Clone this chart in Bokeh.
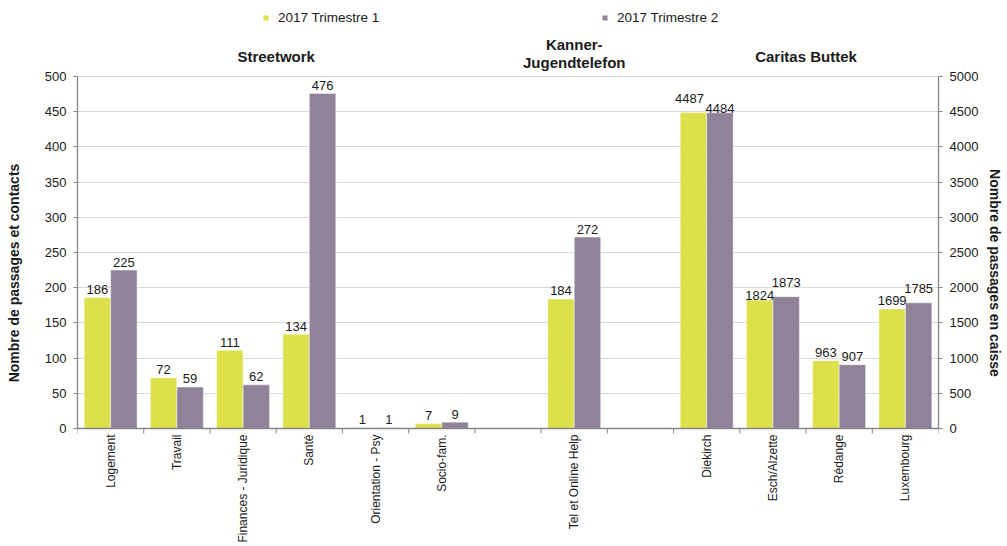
import math
from bokeh.plotting import figure
from bokeh.models import (Range1d, LinearAxis, FixedTicker, ColumnDataSource,
                          Legend, LegendItem, Span)
from bokeh.core.properties import value
from bokeh.embed import file_html
from bokeh.resources import INLINE

# ---------------- data ----------------
categories = ["Logement", "Travail", "Finances - Juridique", "Santé",
              "Orientation - Psy", "Socio-fam.", "", "Tel et Online Help", "",
              "Diekirch", "Esch/Alzette", "Rédange", "Luxembourg"]
t1_values = [186, 72, 111, 134, 1, 7, None, 184, None, 4487, 1824, 963, 1699]
t2_values = [225, 59, 62, 476, 1, 9, None, 272, None, 4484, 1873, 907, 1785]
axis_side = ["left"] * 9 + ["right"] * 4
series_names = ["2017 Trimestre 1", "2017 Trimestre 2"]
group_names = ["Streetwork", "Kanner-\nJugendtelefon", "Caritas Buttek"]
group_first = [0, 7, 9]
group_last = [5, 7, 12]
left_ticks = [0, 50, 100, 150, 200, 250, 300, 350, 400, 450, 500]
right_ticks = [0, 500, 1000, 1500, 2000, 2500, 3000, 3500, 4000, 4500, 5000]
left_label = "Nombre de passages et contacts"
right_label = "Nombre de passages en caisse"

# label nudges (style only): (series index, category) -> (dx, dy) pixels
label_nudge = {(0, "Diekirch"): (-4, -6), (1, "Diekirch"): (0, 4),
               (0, "Esch/Alzette"): (0, 3), (1, "Esch/Alzette"): (0, -6),
               (1, "Luxembourg"): (0, -6)}

# ---------------- layout / style ----------------
W, H = 1006, 545
PLOT_LEFT, PLOT_RIGHT = 77, 939        # pixel edges of the value area
PLOT_TOP, PLOT_BOTTOM = 76, 428        # pixel rows of the top tick and the zero line
GREEN = "#DCE04A"
PURPLE = "#8F8299"
AXIS_C = "#868686"
GRID_C = "#D9D9D9"
TXT_C = "#1a1a1a"
FONT = "Liberation Sans"
BAR_W = 0.4

n = len(categories)
s_left = (left_ticks[-1] - left_ticks[0]) / (PLOT_BOTTOM - PLOT_TOP)   # data per px
s_right = (right_ticks[-1] - right_ticks[0]) / (PLOT_BOTTOM - PLOT_TOP)


def y_at(px):
    return (PLOT_BOTTOM - px) * s_left


p = figure(width=W, height=H, output_backend="svg", toolbar_location=None,
           title=None, x_axis_location=None,
           x_range=Range1d(0, n),
           y_range=Range1d(-(H - PLOT_BOTTOM) * s_left, PLOT_BOTTOM * s_left),
           min_border_left=PLOT_LEFT, min_border_right=W - PLOT_RIGHT,
           min_border_top=0, min_border_bottom=0)
p.extra_y_ranges = {"right": Range1d(-(H - PLOT_BOTTOM) * s_right, PLOT_BOTTOM * s_right)}
p.outline_line_color = None
p.background_fill_color = "white"
p.border_fill_color = "white"

renderers = {}
for side in ["left", "right"]:
    idx = [i for i in range(n) if axis_side[i] == side and t1_values[i] is not None]
    data = dict(
        x1=[i + 0.5 - BAR_W / 2 for i in idx],
        x2=[i + 0.5 + BAR_W / 2 for i in idx],
        t1=[t1_values[i] for i in idx],
        t2=[t2_values[i] for i in idx],
        l1=[str(t1_values[i]) for i in idx],
        l2=[str(t2_values[i]) for i in idx],
        dx1=[label_nudge.get((0, categories[i]), (0, 0))[0] for i in idx],
        dy1=[-8 + label_nudge.get((0, categories[i]), (0, 0))[1] for i in idx],
        dx2=[label_nudge.get((1, categories[i]), (0, 0))[0] for i in idx],
        dy2=[-8 + label_nudge.get((1, categories[i]), (0, 0))[1] for i in idx],
    )
    src = ColumnDataSource(data)
    kw = {} if side == "left" else {"y_range_name": "right"}
    r1 = p.vbar(x="x1", top="t1", width=BAR_W, source=src, fill_color=GREEN,
                line_color="white", line_alpha=0.5, line_width=1, **kw)
    r2 = p.vbar(x="x2", top="t2", width=BAR_W, source=src, fill_color=PURPLE,
                line_color="white", line_alpha=0.5, line_width=1, **kw)
    renderers[side] = (r1, r2)
    for k in ("1", "2"):
        p.text(x="x" + k, y="t" + k, text="l" + k, source=src,
               x_offset="dx" + k, y_offset="dy" + k,
               text_align="center", text_baseline="alphabetic",
               text_font=value(FONT), text_font_size="13px", text_color=TXT_C, **kw)

# ---------------- y axes ----------------
right_axis = LinearAxis(y_range_name="right", axis_label=right_label)
p.add_layout(right_axis, "right")

left_axis = p.yaxis[0]
left_axis.ticker = FixedTicker(ticks=left_ticks)
left_axis.axis_label = left_label
left_axis.bounds = (left_ticks[0], left_ticks[-1])
right_axis.ticker = FixedTicker(ticks=right_ticks)
right_axis.bounds = (right_ticks[0], right_ticks[-1])

for ax in [left_axis, right_axis]:
    ax.axis_line_color = AXIS_C
    ax.axis_line_width = 1.3
    ax.major_tick_line_color = AXIS_C
    ax.major_tick_out = 4
    ax.major_tick_in = 0
    ax.minor_tick_line_color = None
    ax.major_label_standoff = 7
    ax.major_label_text_font = FONT
    ax.major_label_text_font_size = "13px"
    ax.major_label_text_color = TXT_C
    ax.axis_label_text_font = FONT
    ax.axis_label_text_font_size = "14px"
    ax.axis_label_text_font_style = "bold"
    ax.axis_label_text_color = TXT_C
left_axis.axis_label_standoff = 20
right_axis.axis_label_standoff = 6

p.xgrid.visible = False
p.ygrid.ticker = FixedTicker(ticks=left_ticks)
p.ygrid.grid_line_color = GRID_C
p.ygrid.grid_line_width = 1

# ---------------- category axis (bottom) ----------------
p.add_layout(Span(location=left_ticks[0], dimension="width",
                  line_color=AXIS_C, line_width=1.3))
bounds_x = list(range(n + 1))
p.segment(x0=bounds_x, y0=[left_ticks[0]] * len(bounds_x),
          x1=bounds_x, y1=[left_ticks[0] - 5 * s_left] * len(bounds_x),
          line_color=AXIS_C, line_width=1)
cat_idx = [i for i in range(n) if categories[i]]
p.text(x=[i + 0.5 for i in cat_idx], y=[left_ticks[0]] * len(cat_idx),
       text=[categories[i] for i in cat_idx], angle=math.pi / 2,
       text_align="right", text_baseline="middle", y_offset=6,
       text_font=value(FONT), text_font_size="12px", text_color=TXT_C)

# ---------------- group titles ----------------
tx, ty, tt = [], [], []
for name, a, b in zip(group_names, group_first, group_last):
    lines = name.split("\n")
    m = len(lines)
    for k, line in enumerate(lines):
        tx.append((a + b + 1) / 2)
        ty.append(y_at(56 - 3 * (m - 1) - 18 * ((m - 1) / 2 - k)))
        tt.append(line)
p.text(x=tx, y=ty, text=tt, text_align="center", text_baseline="middle",
       text_font=value(FONT), text_font_size="15px", text_font_style="bold",
       text_color=TXT_C)

# ---------------- legend ----------------
legend = Legend(items=[LegendItem(label=series_names[0], renderers=[renderers["left"][0]]),
                       LegendItem(label=series_names[1], renderers=[renderers["left"][1]])],
                orientation="horizontal", location=(262 - PLOT_LEFT, H - 25),
                glyph_width=7, glyph_height=7, label_standoff=9, spacing=0,
                padding=0, margin=0, label_width=323, label_height=16,
                border_line_color=None, background_fill_alpha=0,
                label_text_font=FONT, label_text_font_size="13.5px",
                label_text_color=TXT_C)
p.add_layout(legend, "center")

open("out.html", "w").write(file_html(p, INLINE))
